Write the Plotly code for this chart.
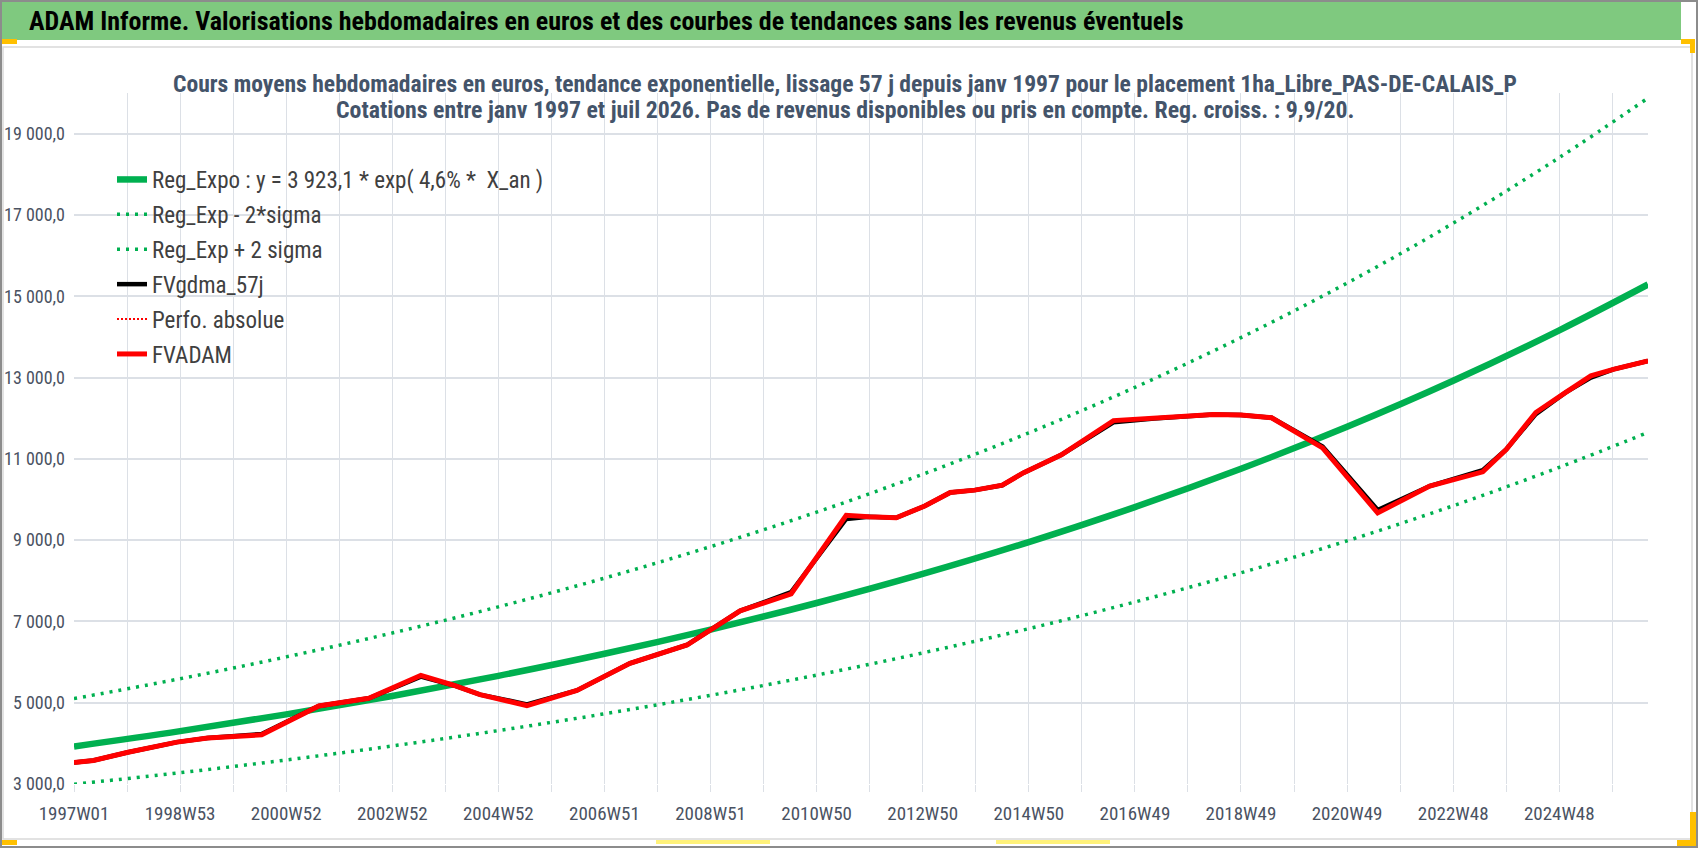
import plotly.graph_objects as go

# ---------------- data ----------------
# x positions are week indices counted from 1997W01 (= 0)
tick_weeks = [0, 104, 208, 312, 416, 520, 624, 728, 832, 936, 1040, 1144, 1248, 1352, 1456]
tick_labels = ["1997W01", "1998W53", "2000W52", "2002W52", "2004W52", "2006W51", "2008W51",
               "2010W50", "2012W50", "2014W50", "2016W49", "2018W49", "2020W49", "2022W48", "2024W48"]

trend_weeks = [0, 104, 208, 312, 416, 520, 624, 728, 832, 936, 1040, 1144, 1248, 1352, 1456, 1543]
reg_expo = [3923, 4300, 4713, 5165, 5661, 6204, 6800, 7453, 8169, 8953, 9813, 10756, 11788, 12920, 14162, 15289]
reg_minus = [2995, 3277, 3591, 3936, 4314, 4727, 5182, 5679, 6225, 6822, 7478, 8196, 8982, 9845, 10791, 11650]
reg_plus = [5100, 5590, 6127, 6715, 7359, 8065, 8840, 9689, 10620, 11639, 12757, 13983, 15324, 16796, 18411, 19876]

adam_weeks = [0, 19, 53, 101, 131, 184, 240, 289, 340, 372, 398, 444, 493, 545, 601, 627, 653, 703,
              757, 779, 806, 834, 859, 883, 910, 931, 968, 1019, 1059, 1117, 1144, 1174, 1224, 1278,
              1329, 1381, 1404, 1433, 1462, 1487, 1509, 1543]
fvadam = [3530, 3580, 3780, 4030, 4130, 4210, 4920, 5110, 5670, 5430, 5200, 4930, 5300, 5970, 6420, 6830,
          7260, 7680, 9610, 9575, 9550, 9840, 10170, 10230, 10350, 10660, 11100, 11940, 11990, 12090,
          12080, 12010, 11270, 9670, 10330, 10680, 11230, 12140, 12630, 13040, 13200, 13410]
fvgdma_57j = [3530, 3580, 3780, 4030, 4130, 4230, 4920, 5110, 5640, 5430, 5200, 4960, 5300, 5970, 6420, 6830,
              7260, 7720, 9520, 9575, 9550, 9840, 10170, 10230, 10350, 10660, 11100, 11900, 11990, 12090,
              12080, 12010, 11300, 9740, 10330, 10720, 11230, 12100, 12630, 13000, 13200, 13410]
perfo_absolue = fvadam

y_ticks = [3000, 5000, 7000, 9000, 11000, 13000, 15000, 17000, 19000]
y_labels = ["3 000,0", "5 000,0", "7 000,0", "9 000,0", "11 000,0", "13 000,0", "15 000,0", "17 000,0", "19 000,0"]

title_main = "ADAM Informe. Valorisations hebdomadaires en euros et des courbes de tendances sans les revenus éventuels"
subtitle_1 = "Cours moyens hebdomadaires en euros, tendance exponentielle, lissage 57 j depuis janv 1997 pour le placement 1ha_Libre_PAS-DE-CALAIS_P"
subtitle_2 = "Cotations entre janv 1997 et juil 2026. Pas de revenus disponibles ou pris en compte. Reg. croiss. : 9,9/20."

# ---------------- layout constants ----------------
W, H = 1698, 848
ML, MR, MT, MB = 74, 50, 93, 64
PW, PH = W - ML - MR, H - MT - MB
FONT = "Liberation Sans Narrow, Arial Narrow, Roboto Condensed, sans-serif"
GREEN = "#00B050"
GRID = "#DCE0E6"
TXT = "#4A5262"


def px(x):
    return (x - ML) / PW


def py(y):
    return (H - MB - y) / PH


fig = go.Figure()

fig.add_trace(go.Scatter(x=trend_weeks, y=reg_expo, mode="lines", name="Reg_Expo : y = 3 923,1 * exp( 4,6% *  X_an )",
                         line=dict(color=GREEN, width=6.5, shape="spline"), legendgroup="a"))
fig.add_trace(go.Scatter(x=trend_weeks, y=reg_minus, mode="lines", name="Reg_Exp - 2*sigma",
                         line=dict(color=GREEN, width=3.5, dash="3px,6px", shape="spline"), legendgroup="b"))
fig.add_trace(go.Scatter(x=trend_weeks, y=reg_plus, mode="lines", name="Reg_Exp + 2 sigma",
                         line=dict(color=GREEN, width=3.5, dash="3px,6px", shape="spline"), legendgroup="c"))
fig.add_trace(go.Scatter(x=adam_weeks, y=fvgdma_57j, mode="lines", name="FVgdma_57j",
                         line=dict(color="#000000", width=4.5), legendgroup="d"))
fig.add_trace(go.Scatter(x=adam_weeks, y=perfo_absolue, mode="lines", name="Perfo. absolue",
                         line=dict(color="#FF0000", width=2, dash="2px,2px"), legendgroup="e"))
fig.add_trace(go.Scatter(x=adam_weeks, y=fvadam, mode="lines", name="FVADAM",
                         line=dict(color="#FF0000", width=5), legendgroup="f"))

shapes = []
# outer frame
shapes.append(dict(type="rect", xref="paper", yref="paper", x0=px(1), x1=px(W - 1), y0=py(H - 1), y1=py(1),
                   line=dict(color="#8C8C8C", width=2), fillcolor="rgba(0,0,0,0)", layer="above"))
# green title bar
shapes.append(dict(type="rect", xref="paper", yref="paper", x0=px(2), x1=px(1681), y0=py(40), y1=py(2),
                   line=dict(width=0), fillcolor="#7FC97F", layer="below"))
# chart area border
shapes.append(dict(type="rect", xref="paper", yref="paper", x0=px(3), x1=px(1692), y0=py(839), y1=py(47),
                   line=dict(color="#D9D9D9", width=1.5), fillcolor="rgba(0,0,0,0)", layer="below"))
# white box behind chart title
shapes.append(dict(type="rect", xref="paper", yref="paper", x0=px(196), x1=px(1494), y0=py(124), y1=py(60),
                   line=dict(width=0), fillcolor="#FFFFFF", layer="between"))
# small selection handles
for (x0, y0, x1, y1, c) in [(2, 39, 17, 44, "#FFC000"), (1681, 39, 1695, 44, "#FFC000"), (1690, 39, 1695, 53, "#FFC000"),
                            (2, 840, 17, 845, "#FFC000"), (1690, 812, 1696, 846, "#FFC000"), (1677, 840, 1696, 846, "#FFC000"),
                            (656, 840, 770, 844, "#FFF27A"), (996, 840, 1110, 844, "#FFF27A")]:
    shapes.append(dict(type="rect", xref="paper", yref="paper", x0=px(x0), x1=px(x1), y0=py(y1), y1=py(y0),
                       line=dict(width=0), fillcolor=c, layer="above"))

annotations = [
    dict(text="<b>" + title_main + "</b>", xref="paper", yref="paper", x=px(27), y=py(21), xanchor="left",
         yanchor="middle", showarrow=False, font=dict(family=FONT, size=26, color="#000000")),
    dict(text="<b>" + subtitle_1 + "</b>", xref="paper", yref="paper", x=px(845), y=py(84), xanchor="center",
         yanchor="middle", showarrow=False, font=dict(family=FONT, size=23.6, color="#44546A")),
    dict(text="<b>" + subtitle_2 + "</b>", xref="paper", yref="paper", x=px(845), y=py(110), xanchor="center",
         yanchor="middle", showarrow=False, font=dict(family=FONT, size=23.8, color="#44546A")),
]

fig.update_layout(
    width=W, height=H,
    margin=dict(l=ML, r=MR, t=MT, b=MB, autoexpand=False),
    paper_bgcolor="#FFFFFF", plot_bgcolor="#FFFFFF",
    shapes=shapes, annotations=annotations,
    showlegend=True,
    legend=dict(xref="container", yref="container", x=112 / W, y=1 - 158 / H, xanchor="left", yanchor="top",
                bgcolor="rgba(0,0,0,0)", font=dict(family=FONT, size=23, color="#404040"),
                tracegroupgap=2, itemwidth=30, traceorder="grouped"),
    font=dict(family=FONT),
)

fig.update_xaxes(range=[0, 1543], tickmode="array", tickvals=tick_weeks, ticktext=tick_labels,
                 showgrid=True, gridcolor=GRID, gridwidth=1.3, ticks="outside", ticklen=7, tickcolor=GRID,
                 tickwidth=1.3, tickfont=dict(family=FONT, size=19, color=TXT), zeroline=False,
                 showline=False, ticklabelstandoff=5,
                 minor=dict(tickmode="linear", tick0=0, dtick=52, showgrid=True, gridcolor=GRID, gridwidth=1.3,
                            ticks="outside", ticklen=7, tickcolor=GRID, tickwidth=1.3))
fig.update_yaxes(range=[3000, 20000], tickmode="array", tickvals=y_ticks, ticktext=y_labels,
                 showgrid=True, gridcolor=GRID, gridwidth=1.6, zeroline=False, showline=False,
                 tickfont=dict(family=FONT, size=18, color=TXT), ticks="", ticklabelstandoff=8)

fig.write_html("out.html", config={"displayModeBar": False},
               post_script="document.body.style.margin='0px';document.body.style.padding='0px';"
                           "document.body.style.overflow='hidden';")
